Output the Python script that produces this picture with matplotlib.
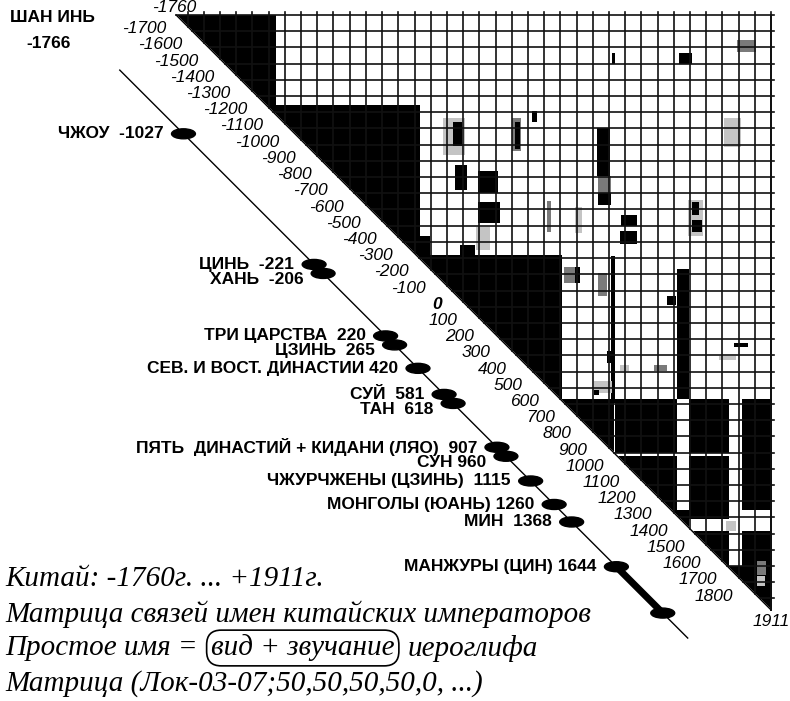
import matplotlib.pyplot as plt
from matplotlib.patches import Ellipse
import numpy as np

start, end = -1760, 1911

# black / grey blocks of the matrix: (row0, row1, col0, col1, level) in years
# level 3 = black, 2 = dark grey, 1 = light grey, 0 = white (cut-outs)
blocks = [
    (-1760, -1205, -1760, -1146, 3),
    (-1205, -280, -1205, -256, 3),
    (-403, -280, -256, -195, 3),
    (-280, -217, -280, 616, 3),
    (-280, 610, -280, 616, 3),
    (610, 1343, 610, 1328, 3),
    (610, 1343, 1402, 1647, 3),
    (610, 1294, 1727, 1911, 3),
    (936, 960, 941, 1647, 0),
    (628, 936, 936, 946, 0),
    (1294, 1418, 1294, 1402, 3),
    (1418, 1634, 1418, 1647, 3),
    (1418, 1695, 1727, 1911, 3),
    (1634, 1911, 1634, 1911, 3),
    (1700, 1760, 1820, 1870, 1),
    (1356, 1418, 1629, 1690, 1),
    (1603, 1695, 1819, 1880, 2),
]
spots = [
    (-1526, -1458, 1340, 1420, 3),
    (-1606, -1532, 1696, 1813, 2),
    (-1526, -1458, 929, 947, 3),
    (-1174, -1100, 432, 462, 3),
    (-1125, -896, -115, 20, 1),
    (-1100, -958, -53, 2, 3),
    (-1125, -920, 310, 370, 2),
    (-1100, -939, 327, 358, 3),
    (-1069, -773, 831, 911, 3),
    (-773, -662, 837, 917, 2),
    (-662, -594, 837, 917, 3),
    (-835, -680, -41, 33, 3),
    (-804, -668, 100, 223, 3),
    (-606, -483, 100, 235, 3),
    (-452, -310, 88, 174, 1),
    (-618, -421, 524, 555, 2),
    (-526, -464, 984, 1076, 3),
    (-433, -353, 972, 1076, 3),
    (-620, -400, 1400, 1490, 1),
    (-606, -526, 1420, 1463, 3),
    (-495, -421, 1420, 1481, 3),
    (-1125, -946, 1616, 1721, 1),
    (-341, -261, -10, 82, 3),
    (-575, -415, 696, 745, 1),
    (-205, -113, 634, 696, 2),
    (-205, -113, 696, 726, 3),
    (-174, -32, 837, 898, 2),
    (-279, 615, 923, 947, 3),
    (-199, 603, 1328, 1402, 3),
    (-32, 29, 1267, 1316, 3),
    (307, 381, 892, 923, 3),
    (400, 431, 972, 1033, 1),
    (400, 431, 1187, 1267, 2),
    (264, 282, 1678, 1770, 3),
    (338, 369, 1586, 1690, 1),
    (492, 566, 818, 929, 1),
    (554, 585, 818, 849, 3),
]

diag_years = list(range(-1700, 1900, 100))

dyn_names = ["ЧЖОУ  -1027", "ЦИНЬ  -221", "ХАНЬ  -206", "ТРИ ЦАРСТВА  220",
             "ЦЗИНЬ  265", "СЕВ. И ВОСТ. ДИНАСТИИ 420", "СУЙ  581", "ТАН  618",
             "ПЯТЬ  ДИНАСТИЙ + КИДАНИ (ЛЯО)  907", "СУН 960",
             "ЧЖУРЧЖЕНЫ (ЦЗИНЬ)  1115", "МОНГОЛЫ (ЮАНЬ) 1260", "МИН  1368",
             "МАНЖУРЫ (ЦИН) 1644"]
dyn_years = [-1027, -221, -206, 220, 265, 420, 581, 618, 907, 960, 1115, 1260, 1368, 1644]
qing_end = 1930

# pixel scale of the original picture (years per pixel)
sx, sy = 3671 / 598, 3671 / 595
shift = -112 * sx  # time line lies left of the diagonal

fig = plt.figure(figsize=(7.9, 7.01), dpi=100)
ax = fig.add_axes([0, 0, 1, 1])
ax.set_xlim(start - 175 * sx, start + 615 * sx)
ax.set_ylim(start + 686 * sy, start - 15 * sy)
ax.axis("off")

# matrix raster, 5-year cells
step = 5
edges = np.arange(start, end + step, step)
n = len(edges) - 1
mat = np.zeros((n, n))
for r0, r1, c0, c1, lv in blocks + spots:
    rs = (edges[:-1] >= r0) & (edges[:-1] < r1)
    cs = (edges[:-1] >= c0) & (edges[:-1] < c1)
    mat[np.ix_(rs, cs)] = lv
ii, jj = np.indices((n, n))
mat = np.ma.masked_where(jj < ii, mat)
cmap = plt.matplotlib.colors.ListedColormap(["white", "#c4c4c4", "#7a7a7a", "black"])
cmap.set_bad((1, 1, 1, 0))
ax.imshow(mat, cmap=cmap, vmin=0, vmax=3, interpolation="nearest",
          extent=(start, edges[-1], edges[-1], start), zorder=1)
# keep the diagonal edge clean
ax.fill([start, end + 10, start], [start, end + 10, end + 10], color="white", zorder=2)
ax.plot([start, end], [start, end], color="black", lw=1, zorder=3)

# grid
for v in np.arange(end, start, -100):
    ax.plot([v, v], [start - 3 * sy, v], color="#111111", lw=1.2, zorder=3)
for h in np.arange(start, end, 100):
    ax.plot([h, end + 3 * sx], [h, h], color="#111111", lw=1.2, zorder=3)
ax.plot([end, end], [start, end], color="#111111", lw=1.4, zorder=3)

# diagonal year labels
lab = dict(fontsize=12.5, style="italic", family="Liberation Sans", zorder=4)
for yr in diag_years:
    ax.text(yr - 20 * sx, yr + 4 * sy, "0" if yr == 0 else str(yr), ha="right", va="center",
            weight="bold" if yr == 0 else "normal", **lab)
ax.text(start - 2 * sx, start - 8 * sy, str(start), ha="center", va="center", **lab)
ax.text(end, end + 12 * sy, str(end), ha="center", va="center", **lab)

# time line with dynasties
ax.plot([-1420 + shift, 2084 + shift], [-1420, 2084], color="black", lw=1, zorder=4)
prev_e, prev_l = -9999, -9999
for name, yr in zip(dyn_names, dyn_years):
    ye = max(yr, prev_e + 9 * sy)
    yl = max(ye, prev_l + 15 * sy)
    prev_e, prev_l = ye, yl
    ax.add_patch(Ellipse((ye + shift, ye), 24 * sx, 10 * sy, color="black", zorder=5))
    ax.text(ye + shift - 20 * sx, yl, name, ha="right", va="center", fontsize=12.5,
            weight="bold", family="Liberation Sans", zorder=5)
ax.plot([dyn_years[-1] + shift, qing_end + shift], [dyn_years[-1], qing_end],
        color="black", lw=5, zorder=5)
ax.add_patch(Ellipse((qing_end + shift, qing_end), 24 * sx, 10 * sy, color="black", zorder=5))

fig.text(10 / 790, 1 - 18 / 701, "ШАН ИНЬ", fontsize=12.5, weight="bold",
         family="Liberation Sans", va="center")
fig.text(26 / 790, 1 - 44 / 701, "-1766", fontsize=12.5, weight="bold",
         family="Liberation Sans", va="center")

# caption
cap = dict(fontsize=21, style="italic", family="Liberation Serif", va="center")
fig.text(5 / 790, 1 - 579 / 701, "Китай: -1760г. ... +1911г.", **cap)
fig.text(5 / 790, 1 - 614 / 701, "Матрица связей имен китайских императоров", **cap)
fig.text(5 / 790, 1 - 648 / 701, "Простое имя =", **cap)
fig.text(211 / 790, 1 - 648 / 701, "вид + звучание", **cap,
         bbox=dict(boxstyle="round,pad=0.15,rounding_size=0.5", fc="white", ec="black", lw=1.2))
fig.text(408 / 790, 1 - 648 / 701, "иероглифа", **cap)
fig.text(5 / 790, 1 - 684 / 701, "Матрица (Лок-03-07;50,50,50,50,0, ...)", **cap)

fig.savefig("out.png", dpi=100)
